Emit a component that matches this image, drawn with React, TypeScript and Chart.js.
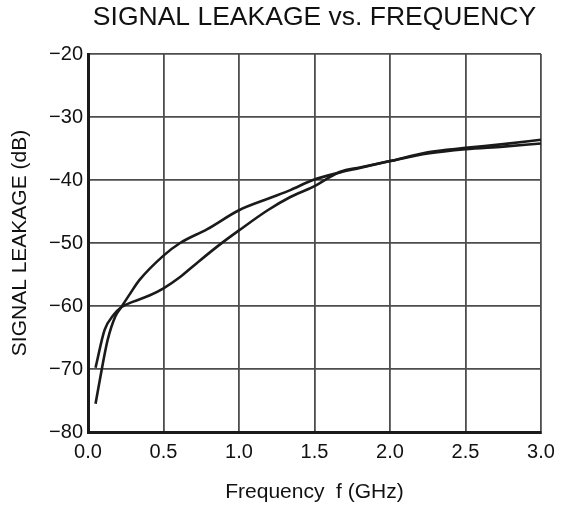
import React, { useEffect, useRef } from "react";
import { Chart, registerables } from "chart.js";

Chart.register(...registerables);

const TITLE = "SIGNAL LEAKAGE vs. FREQUENCY";
const X_TITLE = "Frequency  f (GHz)";
const Y_TITLE = "SIGNAL LEAKAGE (dB)";

const freqA = [0.05, 0.11, 0.17, 0.22, 0.3, 0.41, 0.5, 0.61, 0.72, 0.87, 1.0, 1.19, 1.34, 1.49, 1.67, 1.8, 2.0, 2.25, 2.5, 2.75, 3.0];
const leakA = [-69.8, -63.8, -61.4, -60.2, -59.3, -58.3, -57.2, -55.4, -53.2, -50.3, -48.0, -44.8, -42.7, -41.1, -38.7, -38.0, -37.0, -35.8, -35.1, -34.7, -34.2];

const freqB = [0.05, 0.09, 0.13, 0.18, 0.22, 0.28, 0.34, 0.5, 0.61, 0.79, 1.0, 1.2, 1.34, 1.49, 1.67, 1.8, 2.0, 2.25, 2.5, 2.75, 3.0];
const leakB = [-75.5, -70.2, -65.4, -61.7, -60.2, -58.0, -55.9, -52.0, -50.0, -47.8, -44.8, -42.9, -41.6, -40.0, -38.8, -38.1, -37.0, -35.6, -34.9, -34.3, -33.6];

const FONT = "'Liberation Sans', Arial, Helvetica, sans-serif";

export default function App() {
  const ref = useRef<HTMLCanvasElement | null>(null);

  useEffect(() => {
    document.body.style.margin = "0";
    const canvas = ref.current;
    if (!canvas) return;
    const mk = (xs: number[], ys: number[]) => xs.map((x, i) => ({ x, y: ys[i] }));
    const lineStyle = {
      borderColor: "#1a1a1a",
      borderWidth: 2.6,
      pointRadius: 0,
      fill: false,
      cubicInterpolationMode: "monotone" as const,
    };
    const chart = new Chart(canvas, {
      type: "line",
      data: {
        datasets: [
          { label: "A", data: mk(freqA, leakA), ...lineStyle },
          { label: "B", data: mk(freqB, leakB), ...lineStyle },
        ],
      },
      options: {
        animation: false,
        responsive: false,
        maintainAspectRatio: false,
        layout: { padding: { left: 0, right: 27, top: 0, bottom: 0 } },
        plugins: {
          legend: { display: false },
          tooltip: { enabled: false },
          title: {
            display: true,
            text: TITLE,
            fullSize: false,
            color: "#111",
            font: { family: FONT, size: 26.5, weight: "normal", lineHeight: 1.2 },
            padding: { top: 2, bottom: 20.2 },
          },
        },
        scales: {
          x: {
            type: "linear",
            min: 0,
            max: 3,
            border: { display: true, color: "#1a1a1a", width: 3 },
            grid: { color: "#4d4d4d", lineWidth: 1.8, drawTicks: false },
            ticks: {
              stepSize: 0.5,
              color: "#111",
              padding: 8,
              font: { family: FONT, size: 20, lineHeight: 1.2 },
              callback: (v: any) => Number(v).toFixed(1),
            },
            title: {
              display: true,
              text: X_TITLE,
              color: "#111",
              font: { family: FONT, size: 21, lineHeight: 1.2 },
              padding: { top: 0, bottom: 7 },
            },
            afterFit: (s: any) => {
              s.height = 80;
            },
          },
          y: {
            type: "linear",
            min: -80,
            max: -20,
            border: { display: true, color: "#1a1a1a", width: 3 },
            grid: { color: "#4d4d4d", lineWidth: 1.8, drawTicks: false },
            ticks: {
              stepSize: 10,
              color: "#111",
              padding: 5,
              font: { family: FONT, size: 20, lineHeight: 1.2 },
              callback: (v: any) => String(v).replace("-", "\u2212"),
            },
            title: {
              display: true,
              text: Y_TITLE,
              color: "#111",
              font: { family: FONT, size: 21, lineHeight: 1.2 },
              padding: { top: 8, bottom: 0 },
            },
            afterFit: (s: any) => {
              s.width = 88;
            },
          },
        },
      },
    });
    return () => chart.destroy();
  }, []);

  return (
    <div style={{ width: 568, height: 512, background: "#fff" }}>
      <canvas ref={ref} width={568} height={512} style={{ display: "block" }} />
    </div>
  );
}
